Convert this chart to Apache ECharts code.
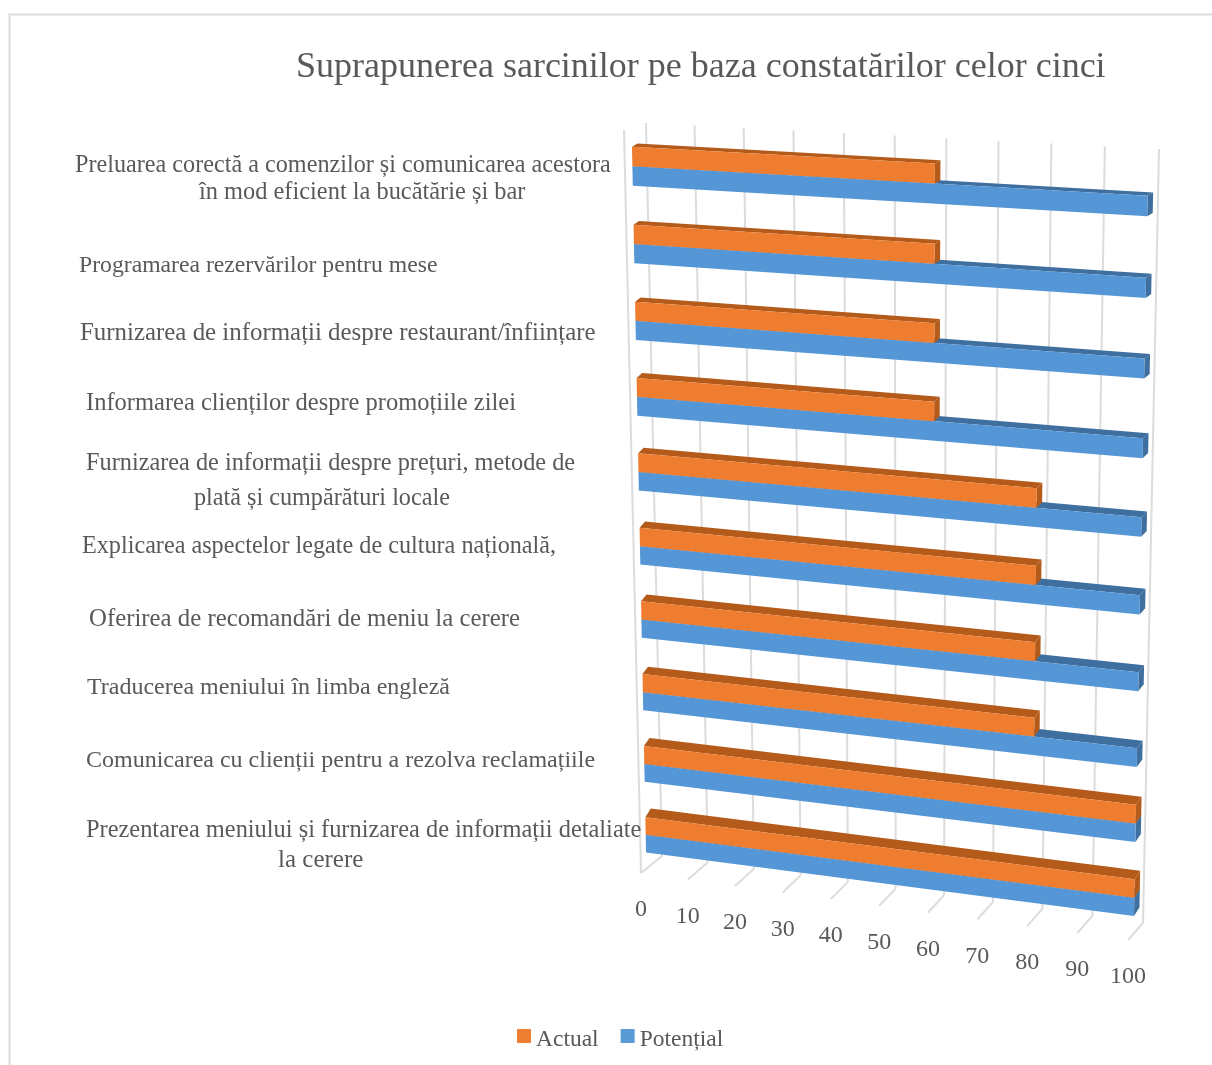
<!DOCTYPE html>
<html><head><meta charset="utf-8">
<style>html,body{margin:0;padding:0;background:#fff}#c{width:1212px;height:1065px}</style>
<script src="https://cdn.jsdelivr.net/npm/echarts@6/dist/echarts.min.js"></script></head>
<body><div id="c"></div>
<script>
const titleText = 'Suprapunerea sarcinilor pe baza constatărilor celor cinci';
const categories = [
  ['Preluarea corectă a comenzilor și comunicarea acestora', 'în mod eficient la bucătărie și bar'],
  ['Programarea rezervărilor pentru mese'],
  ['Furnizarea de informații despre restaurant/înființare'],
  ['Informarea clienților despre promoțiile zilei'],
  ['Furnizarea de informații despre prețuri, metode de', 'plată și cumpărături locale'],
  ['Explicarea aspectelor legate de cultura națională,'],
  ['Oferirea de recomandări de meniu la cerere'],
  ['Traducerea meniului în limba engleză'],
  ['Comunicarea cu clienții pentru a rezolva reclamațiile'],
  ['Prezentarea meniului și furnizarea de informații detaliate', 'la cerere']
];
const actual = [60, 60, 60, 60, 80, 80, 80, 80, 100, 100];
const potential = [100, 100, 100, 100, 100, 100, 100, 100, 100, 100];
const xTicks = [0, 10, 20, 30, 40, 50, 60, 70, 80, 90, 100];

// layout only: [x, y, font size] of each label line
const labelAnchors = [
  [[75,166,24.2],[199,193,24.4]],[[79,266,23.7]],[[80,333,24.9]],[[86,404,24.5]],
  [[86,464,24.3],[194,499,24.2]],[[82,547,24.2]],[[89,619,24.8]],[[87,688,24]],
  [[86,761,24]],[[86,831,24.4],[278,860,25]]
];
const GRID = {left: 632, top: 127, width: 516, height: 743};
const TEXT = '#595959', LINE = '#dcdcdc', FONT = '"Liberation Serif"';

function makeWarp(q) {
  const [[x0,y0],[x1,y1],[x2,y2],[x3,y3]] = q;
  const dx1=x1-x2, dx2=x3-x2, sx=x0-x1+x2-x3, dy1=y1-y2, dy2=y3-y2, sy=y0-y1+y2-y3;
  const den=dx1*dy2-dx2*dy1, g=(sx*dy2-dx2*sy)/den, h=(dx1*sy-sx*dy1)/den;
  const a=x1-x0+g*x1, b=x3-x0+h*x3, d=y1-y0+g*y1, e=y3-y0+h*y3;
  return (u,v)=>{const w=g*u+h*v+1; return [(a*u+b*v+x0)/w,(d*u+e*v+y0)/w];};
}
// plot rectangle → bar face plane / back wall / front edge (TL, TR, BR, BL)
const barPlane = makeWarp([[631.6,127],[1148.4,154.5],[1133.6,934.5],[646.4,870]]);
const backWall = makeWarp([[646,123],[1159,149],[1143,923],[662,856]]);
const frontWall = makeWarp([[624,130],[1144,166],[1128,940],[641,873]]);
const depth = s => [5.5, -3 - 6 * s];

const toU = px => (px - GRID.left) / GRID.width;
const toS = py => (py - GRID.top) / GRID.height;

function barItem(fromFrac, toFrac, color, dark) {
  return function (params, api) {
    const value = api.value(0), idx = api.value(1);
    const c = api.coord([value, idx]), band = api.size([0, 1])[1];
    const u = toU(c[0]), u0 = toU(api.coord([0, idx])[0]);
    const s0 = toS(c[1] + fromFrac * band), s1 = toS(c[1] + toFrac * band);
    const a = barPlane(u0, s0), b = barPlane(u, s0), e = barPlane(u, s1), f = barPlane(u0, s1);
    const off = p => { const o = depth(s0); return [p[0] + o[0], p[1] + o[1]]; };
    return {type: 'group', children: [
      {type:'polygon', shape:{points:[a,b,off(b),off(a)]}, style:{fill:dark}},
      {type:'polygon', shape:{points:[b,e,off(e),off(b)]}, style:{fill:dark}},
      {type:'polygon', shape:{points:[a,b,e,f]}, style:{fill:color}}
    ]};
  };
}

function wallItem(params, api) {
  const v = api.value(0);
  const u = toU(api.coord([v, 0])[0]);
  const line = (p, q) => ({type:'line', shape:{x1:p[0],y1:p[1],x2:q[0],y2:q[1]}, style:{stroke:LINE, lineWidth:2}});
  const back0 = backWall(u,0), back1 = backWall(u,1), fr = frontWall(u,1);
  const kids = [line(back0, back1), line(back1, fr),
    {type:'text', style:{text:String(v), x:fr[0], y:fr[1]+37, textAlign:'center', textVerticalAlign:'middle', fill:TEXT, font:'24px '+FONT}}];
  if (v === xTicks[0]) kids.push(line(frontWall(u,0), fr));
  return {type:'group', children:kids};
}

function labelItem(params, api) {
  const i = api.value(0);
  return {type:'group', children: categories[i].map((t, k) => {
    const [x, y, size] = labelAnchors[i][k];
    return {type:'text', style:{text:t, x, y, textAlign:'left', textVerticalAlign:'middle', fill:TEXT, font:size+'px '+FONT}};
  })};
}

const chart = echarts.init(document.getElementById('c'), null, {renderer:'canvas'});
chart.setOption({
  animation:false,
  backgroundColor:'#ffffff',
  title:{text:titleText, left:291, top:45, textStyle:{fontFamily:FONT, fontWeight:'normal', fontSize:36, color:TEXT}},
  legend:{data:['Actual','Potențial'], left:512, top:1023, icon:'path://M0,0H14V14H0Z M0,22L0,22', itemWidth:14, itemHeight:22, itemGap:22,
    textStyle:{fontFamily:FONT, fontSize:23.5, color:TEXT}},
  grid:{left:GRID.left, top:GRID.top, width:GRID.width, height:GRID.height},
  xAxis:{type:'value', min:0, max:100, interval:10, show:false},
  yAxis:{type:'category', inverse:true, data:categories.map(c=>c.join(' ')), show:false},
  graphic:[{type:'rect', silent:true, shape:{x:9.5,y:14.5,width:1400,height:1400}, style:{fill:'none', stroke:LINE, lineWidth:2}, z:-1}],
  series:[
    {type:'custom', name:'walls', z:1, silent:true, data:xTicks.map(v=>[v]), encode:{x:0}, renderItem:wallItem},
    {type:'custom', name:'Potențial', z:2, itemStyle:{color:'#5B9BD5'}, encode:{x:0,y:1},
      data:potential.map((v,i)=>[v,i]), renderItem:barItem(0,0.25,'#5596d6','#3e6f9f')},
    {type:'custom', name:'Actual', z:3, itemStyle:{color:'#ED7D31'}, encode:{x:0,y:1},
      data:actual.map((v,i)=>[v,i]), renderItem:barItem(-0.25,0,'#ee7d30','#b45b1b')},
    {type:'custom', name:'labels', z:4, silent:true, data:categories.map((c,i)=>[i]), encode:{}, renderItem:labelItem}
  ]
});
</script></body></html>
